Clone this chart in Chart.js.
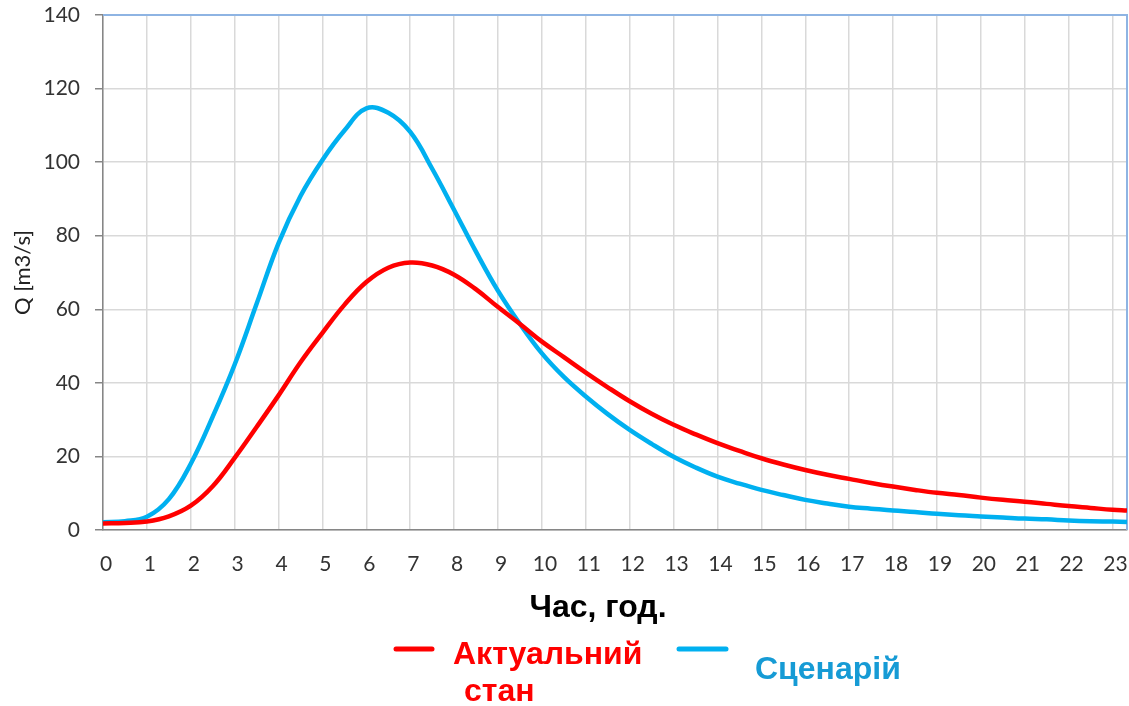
<!DOCTYPE html>
<html><head><meta charset="utf-8">
<script src="https://cdn.jsdelivr.net/npm/chart.js@4/dist/chart.umd.min.js"></script>
<style>html,body{margin:0;padding:0;background:#fff;overflow:hidden;}</style>
</head><body>
<canvas id="c" width="1129" height="706"></canvas>
<script>
// ---- data ----
const hours = [0,0.5,1,1.5,2,2.5,3,3.5,4,4.5,5,5.5,6,6.5,7,7.5,8,8.5,9,9.5,10,10.5,11,11.5,12,12.5,13,13.5,14,14.5,15,15.5,16,16.5,17,17.5,18,18.5,19,19.5,20,20.5,21,21.5,22,22.5,23,23.33];
const actualFlow = [1.8,1.9,2.3,3.7,6.6,11.9,19.6,28.0,36.6,45.6,53.6,61.2,67.4,71.3,72.7,71.9,69.4,65.4,60.6,56.0,51.2,47.0,42.8,38.8,35.0,31.6,28.6,26.0,23.6,21.5,19.5,17.8,16.3,15.0,13.9,12.8,11.8,10.9,10.1,9.5,8.8,8.2,7.7,7.1,6.5,6.0,5.5,5.3];
const scenarioFlow = [2.1,2.4,3.6,8.4,18.0,30.8,45.0,61.5,78.0,90.8,100.6,108.6,114.6,113.4,108.2,98.2,87.0,75.6,65.0,56.0,48.0,41.6,36.3,31.5,27.2,23.4,19.9,17.0,14.5,12.6,10.9,9.5,8.2,7.2,6.3,5.8,5.3,4.9,4.4,4.0,3.7,3.4,3.1,2.9,2.6,2.4,2.3,2.2];
const xTickLabels = [0,1,2,3,4,5,6,7,8,9,10,11,12,13,14,15,16,17,18,19,20,21,22,23];
const yTickValues = [0,20,40,60,80,100,120,140];
const seriesNames = ['Актуальний', 'стан', 'Сценарій'];
const xTitle = 'Час, год.';
const yTitle = 'Q [m3/s]';

const RED = '#FF0000', BLUE = '#00B0F0', BLUE_TXT = '#169BD5';

const frame = {
  id: 'frame',
  beforeDatasetsDraw(chart) {
    const {ctx, chartArea: {left, right, top, bottom}} = chart;
    ctx.save();
    ctx.strokeStyle = '#8EB4E3';
    ctx.lineWidth = 2;
    ctx.beginPath();
    ctx.moveTo(left, top);
    ctx.lineTo(right, top);
    ctx.lineTo(right, bottom);
    ctx.stroke();
    ctx.restore();
  },
  afterDraw(chart) {
    const ctx = chart.ctx;
    ctx.save();
    ctx.textBaseline = 'alphabetic';
    ctx.font = 'bold 32px "Liberation Sans", Arial, sans-serif';
    ctx.fillStyle = '#000';
    ctx.textAlign = 'center';
    ctx.fillText(xTitle, 598, 617);
    ctx.textAlign = 'left';
    ctx.lineWidth = 5;
    ctx.lineCap = 'round';
    ctx.strokeStyle = RED;
    ctx.beginPath(); ctx.moveTo(396, 649); ctx.lineTo(432, 649); ctx.stroke();
    ctx.strokeStyle = BLUE;
    ctx.beginPath(); ctx.moveTo(679, 649); ctx.lineTo(726, 649); ctx.stroke();
    ctx.fillStyle = RED;
    ctx.fillText(seriesNames[0], 453, 664);
    ctx.fillText(seriesNames[1], 464, 701);
    ctx.fillStyle = BLUE_TXT;
    ctx.fillText(seriesNames[2], 755, 679);
    ctx.restore();
  }
};

Chart.defaults.font.family = 'Lato';

new Chart(document.getElementById('c'), {
  type: 'line',
  data: {
    datasets: [
      { label: seriesNames[0] + ' ' + seriesNames[1], data: hours.map((h, i) => ({x: h, y: actualFlow[i]})),
        borderColor: RED, borderWidth: 4.5, pointRadius: 0, tension: 0.4, fill: false },
      { label: seriesNames[2], data: hours.map((h, i) => ({x: h, y: scenarioFlow[i]})),
        borderColor: BLUE, borderWidth: 4.5, pointRadius: 0, tension: 0.4, fill: false }
    ]
  },
  options: {
    responsive: false,
    devicePixelRatio: 1,
    animation: false,
    layout: { padding: { top: 15, right: 2, left: 0, bottom: 0 } },
    plugins: { legend: { display: false }, tooltip: { enabled: false } },
    scales: {
      x: {
        type: 'linear', min: 0, max: 23.33,
        afterBuildTicks(scale) { scale.ticks = xTickLabels.map(v => ({value: v})); },
        afterFit(scale) { scale.height = 176; scale.paddingLeft = 0; scale.paddingRight = 0; },
        grid: { color: '#D9D9D9', lineWidth: 1.5, drawTicks: false },
        border: { color: '#868686', width: 1.5 },
        ticks: { font: { size: 21 }, color: '#333', padding: 22, labelOffset: 3, maxRotation: 0, autoSkip: false,
                 callback: (v) => String(v) }
      },
      y: {
        min: 0, max: 140,
        afterBuildTicks(scale) { scale.ticks = yTickValues.map(v => ({value: v})); },
        afterFit(scale) { scale.width = 103; scale.paddingTop = 0; scale.paddingBottom = 0; },
        grid: { color: '#D9D9D9', lineWidth: 1.5, tickColor: '#868686', tickLength: 8 },
        border: { color: '#868686', width: 1.5 },
        ticks: { font: { size: 21 }, color: '#333', padding: 15 },
        title: { display: true, text: yTitle, font: { size: 22 }, color: '#222', padding: { top: 10 } }
      }
    }
  },
  plugins: [frame]
});
</script>
</body></html>
